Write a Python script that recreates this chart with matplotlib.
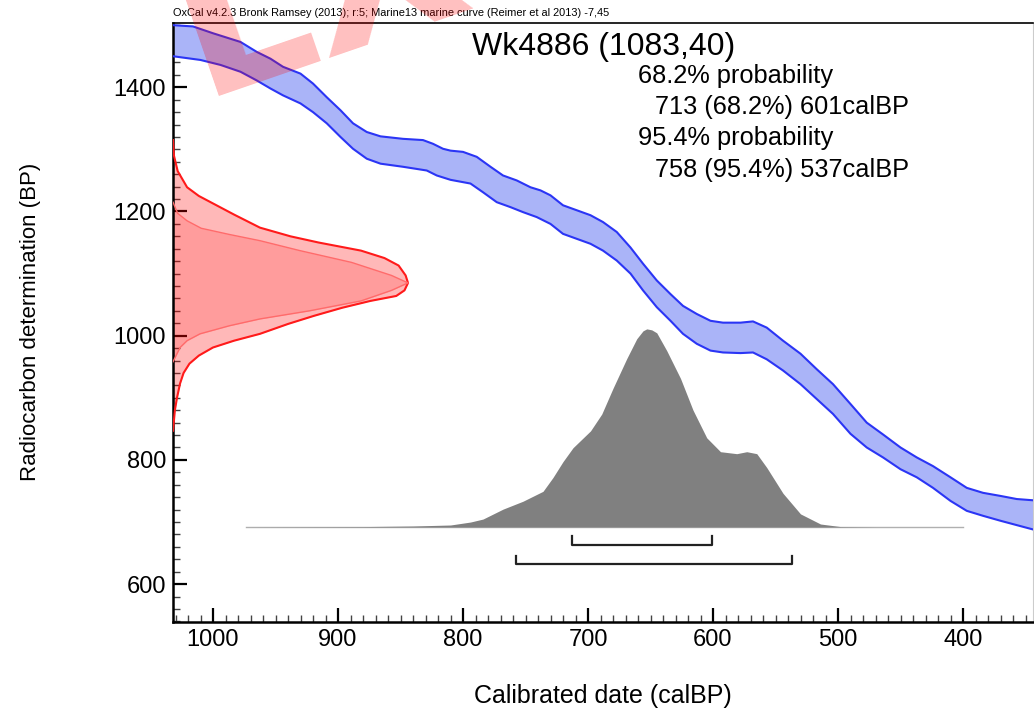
import numpy as np
import matplotlib
matplotlib.use('Agg')
import matplotlib.pyplot as plt
from matplotlib.ticker import MultipleLocator

plt.rcParams['font.family'] = ['Liberation Sans', 'DejaVu Sans']

# calibration curve band: upper edge and lower edge (calBP, BP)
hi_cal = [1032, 1016, 1000, 978, 965, 954, 944, 930, 920, 909, 898, 888, 877, 866, 848, 832, 824, 816,
          810, 800, 789, 778, 768, 757, 746, 738, 730, 720, 709, 698, 688, 677, 666, 656, 645, 634,
          624, 613, 602, 592, 578, 568, 557, 544, 530, 517, 504, 490, 477, 464, 450, 437, 424, 410,
          397, 384, 370, 357, 344]
hi_bp = [1500, 1498, 1487, 1473, 1457, 1446, 1433, 1422, 1406, 1384, 1363, 1342, 1328, 1321, 1317, 1315, 1309, 1301,
         1298, 1296, 1288, 1272, 1258, 1250, 1239, 1234, 1226, 1210, 1202, 1194, 1183, 1167, 1142, 1116, 1089, 1067,
         1048, 1035, 1024, 1021, 1021, 1023, 1013, 992, 971, 946, 922, 890, 860, 841, 820, 804, 790, 772,
         755, 747, 742, 737, 735]
lo_cal = [1032, 1010, 994, 978, 965, 954, 944, 930, 920, 909, 898, 888, 877, 866, 848, 829, 821, 810,
          794, 784, 773, 762, 752, 741, 730, 720, 709, 698, 688, 677, 666, 656, 645, 634, 624, 613,
          602, 592, 578, 568, 557, 544, 530, 517, 504, 490, 477, 464, 450, 437, 424, 410, 397, 384,
          370, 357, 344]
lo_bp = [1450, 1444, 1436, 1425, 1411, 1398, 1387, 1374, 1360, 1342, 1320, 1301, 1285, 1277, 1272, 1266, 1258, 1251,
         1245, 1231, 1215, 1207, 1199, 1191, 1180, 1164, 1156, 1148, 1137, 1121, 1100, 1073, 1046, 1024, 1003, 987,
         976, 973, 972, 973, 962, 944, 922, 898, 874, 842, 820, 804, 785, 772, 755, 734, 718, 710,
         702, 695, 688]

# radiocarbon date Wk4886 (1083,40), relative height
c14_bp_outer = [1315, 1290, 1265, 1239, 1225, 1213, 1195, 1174, 1160, 1150, 1137, 1125, 1113, 1097, 1085,
                1073, 1064, 1056, 1045, 1032, 1019, 1003, 992, 981, 968, 955, 940, 923, 900, 880, 847]
c14_amp_outer = [0, 0.004, 0.02, 0.06, 0.11, 0.17, 0.26, 0.37, 0.5, 0.62, 0.8, 0.9, 0.96, 0.99, 1.0,
                 0.985, 0.95, 0.84, 0.72, 0.6, 0.49, 0.37, 0.26, 0.17, 0.11, 0.07, 0.045, 0.03, 0.017, 0.008, 0]
c14_bp_inner = [1215, 1197, 1185, 1173, 1163, 1153, 1137, 1118, 1097, 1085, 1073, 1056, 1040, 1027, 1016,
                1003, 992, 981, 958]
c14_amp_inner = [0, 0.02, 0.06, 0.12, 0.24, 0.37, 0.54, 0.76, 0.93, 1.0, 0.93, 0.8, 0.58, 0.37, 0.24,
                 0.115, 0.06, 0.03, 0]

# calibrated distribution (calBP, relative height)
cal_years = [974, 880, 840, 810, 794, 784, 768, 752, 736, 728, 720, 712, 698, 689, 680, 669, 661, 656, 653,
             649, 645, 637, 626, 616, 605, 594, 581, 573, 565, 557, 544, 530, 514, 498, 470, 400]
cal_prob = [0, 0.002, 0.005, 0.01, 0.025, 0.04, 0.09, 0.13, 0.18, 0.25, 0.33, 0.40, 0.485, 0.57, 0.70, 0.85, 0.95, 0.99, 1.0,
            0.995, 0.98, 0.89, 0.75, 0.59, 0.45, 0.38, 0.37, 0.38, 0.37, 0.30, 0.17, 0.066, 0.015, 0.002, 0, 0]

ranges_68 = [(713, 601)]
ranges_95 = [(758, 537)]

fig = plt.figure(figsize=(10.34, 7.10), dpi=100)
ax = fig.add_axes([173/1034, 1-622/710, 860/1034, (622-22.7)/710])
x_left, x_right = 1032, 344
ax.set_xlim(x_left, x_right)
ax.set_ylim(539, 1504)

# calibration curve
ax.fill(np.r_[hi_cal, lo_cal[::-1]], np.r_[hi_bp, lo_bp[::-1]], color='#aab4f8', lw=0, zorder=2)
ax.plot(hi_cal, hi_bp, color='#2b35f5', lw=1.5, zorder=3, solid_joinstyle='round')
ax.plot(lo_cal, lo_bp, color='#2b35f5', lw=1.5, zorder=3, solid_joinstyle='round')

# radiocarbon date on y axis
red_scale = 188
xo = x_left - np.array(c14_amp_outer) * red_scale
xi = x_left - np.array(c14_amp_inner) * red_scale
ax.fill_betweenx(c14_bp_outer, x_left, xo, color='#ff0000', alpha=0.28, lw=0, zorder=2)
ax.fill_betweenx(c14_bp_inner, x_left, xi, color='#ff0000', alpha=0.15, lw=0, zorder=2)
ax.plot(xo, c14_bp_outer, color='#ff1a1a', lw=1.5, zorder=3, solid_joinstyle='round')
ax.plot(xi, c14_bp_inner, color='#ff6b6b', lw=1.0, zorder=3, solid_joinstyle='round')

# calibrated date
base = 692
gray_scale = 319
ax.plot([974, 400], [base, base], color='#b0b0b0', lw=1.0, zorder=2)
ax.fill_between(cal_years, base, base + np.array(cal_prob) * gray_scale, color='#808080', lw=0, zorder=3)

# range brackets
for rr, yb in [(ranges_68, 663), (ranges_95, 632)]:
    for a, b in rr:
        ax.plot([a, a, b, b], [yb + 14, yb, yb, yb + 14], color='#222222', lw=1.6, zorder=4)

ax.xaxis.set_major_locator(MultipleLocator(100))
ax.xaxis.set_minor_locator(MultipleLocator(10))
ax.yaxis.set_major_locator(MultipleLocator(200))
ax.yaxis.set_minor_locator(MultipleLocator(20))
ax.tick_params(which='major', direction='in', length=10, width=1.6, labelsize=17, pad=5,
               top=False, right=False)
ax.tick_params(which='minor', direction='in', length=5, width=1.0, color='#444444',
               top=False, right=False)
for s in ['left', 'bottom']:
    ax.spines[s].set_linewidth(1.8)
ax.spines['top'].set_linewidth(1.2)
ax.spines['right'].set_color('#cccccc')

ax.set_xlabel('Calibrated date (calBP)', fontsize=18, labelpad=24)
ax.set_ylabel('Radiocarbon determination (BP)', fontsize=16, labelpad=52)

# texts
fig.text(173/1034, 1-13/710, 'OxCal v4.2.3 Bronk Ramsey (2013); r:5; Marine13 marine curve (Reimer et al 2013) -7,45',
         fontsize=7.9, va='center', ha='left')
fig.text(472/1034, 1-47/710, 'Wk4886 (1083,40)', fontsize=23, va='center', ha='left')
fig.text(638/1034, 1-76/710, '68.2% probability', fontsize=18.3, va='center', ha='left')
fig.text(655/1034, 1-107/710, '713 (68.2%) 601calBP', fontsize=18.3, va='center', ha='left')
fig.text(638/1034, 1-138/710, '95.4% probability', fontsize=18.3, va='center', ha='left')
fig.text(655/1034, 1-170/710, '758 (95.4%) 537calBP', fontsize=18.3, va='center', ha='left')

# watermark
fig.text(200/1034, 1-96/710, 'LX', fontsize=150, fontweight='bold', family='DejaVu Sans',
         color='red', alpha=0.25, rotation=19, rotation_mode='anchor', ha='left', va='baseline', zorder=10)

fig.savefig('out.png', dpi=100)
